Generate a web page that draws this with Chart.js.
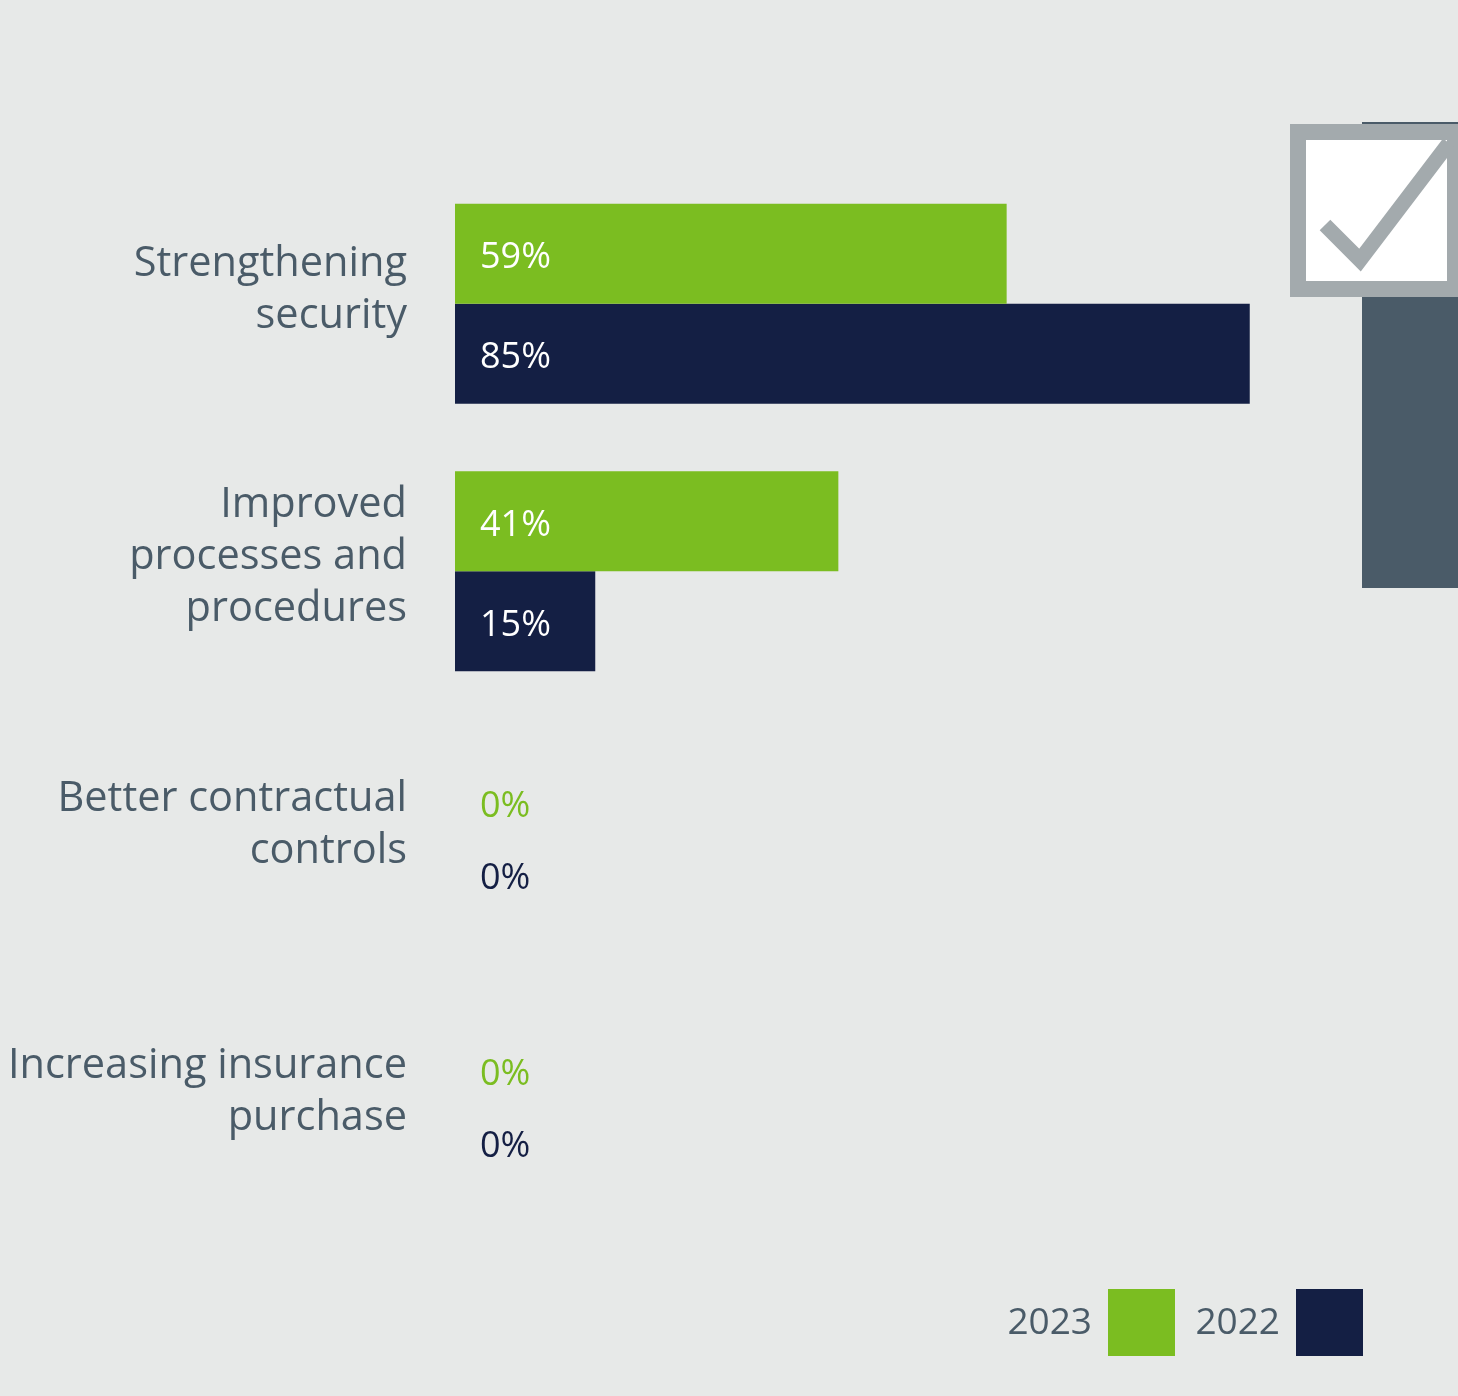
<!DOCTYPE html>
<html>
<head>
<meta charset="utf-8">
<title>Actions taken</title>
<script src="https://cdn.jsdelivr.net/npm/chart.js@4/dist/chart.umd.min.js"></script>
<style>
  html, body { margin: 0; padding: 0; background: #e7e9e8; }
  #wrap { width: 1458px; height: 1396px; }
</style>
</head>
<body>
<div id="wrap"><canvas id="actionsChart" width="1458" height="1396"></canvas></div>
<script>
// Survey answers, in percent
const categories = [
  ["Strengthening", "security"],
  ["Improved", "processes and", "procedures"],
  ["Better contractual", "controls"],
  ["Increasing insurance", "purchase"],
];
const values2023 = [59, 41, 0, 0];
const values2022 = [85, 15, 0, 0];
const seriesNames = ["2023", "2022"];

const GREEN = "#7bbd21";
const NAVY = "#141f44";
const TEXT = "#4a5b68";
const FONT = "'Open Sans', sans-serif";

// empty bars are not painted at all (only their label shows)
const barFill = (color) => (c) => (c.raw === 0 ? "rgba(0,0,0,0)" : color);

// value labels: white inside the bar, coloured like the bar when it is empty
const valueLabels = {
  id: "valueLabels",
  afterDatasetsDraw(chart) {
    const ctx = chart.ctx;
    ctx.save();
    ctx.font = "36px " + FONT;
    ctx.textAlign = "left";
    ctx.textBaseline = "middle";
    chart.data.datasets.forEach((ds, di) => {
      chart.getDatasetMeta(di).data.forEach((bar, i) => {
        const v = ds.data[i];
        let y = bar.y + 4;
        if (v === 0) {
          y += di === 0 ? 14 : -14;
          ctx.fillStyle = ds.labelColor;
        } else {
          ctx.fillStyle = "#ffffff";
        }
        ctx.fillText(v + "%", chart.chartArea.left + 25, y);
      });
    });
    ctx.restore();
  },
};

// checkbox emblem in the top right corner
const emblem = {
  id: "emblem",
  afterDraw(chart) {
    const ctx = chart.ctx;
    ctx.save();
    ctx.fillStyle = "#4a5b68";
    ctx.fillRect(1362, 122, 96, 466);
    ctx.fillStyle = "#a3aaad";
    ctx.fillRect(1290, 124, 168, 173);
    ctx.fillStyle = "#ffffff";
    ctx.fillRect(1306, 140, 141, 141);
    ctx.strokeStyle = "#a3aaad";
    ctx.lineWidth = 15;
    ctx.beginPath();
    ctx.moveTo(1325, 225);
    ctx.lineTo(1360, 260);
    ctx.lineTo(1449, 143);
    ctx.stroke();
    ctx.restore();
  },
};

// legend: year text followed by its colour square
const yearLegend = {
  id: "yearLegend",
  afterDraw(chart) {
    const ctx = chart.ctx;
    const boxes = [1108, 1296];
    ctx.save();
    ctx.font = "37px " + FONT;
    ctx.textAlign = "right";
    ctx.textBaseline = "middle";
    chart.data.datasets.forEach((ds, i) => {
      ctx.fillStyle = TEXT;
      ctx.fillText(ds.label, boxes[i] - 16, 1323);
      ctx.fillStyle = ds.labelColor;
      ctx.fillRect(boxes[i], 1289, 67, 67);
    });
    ctx.restore();
  },
};

const ctx = document.getElementById("actionsChart").getContext("2d");
new Chart(ctx, {
  type: "bar",
  data: {
    labels: categories,
    datasets: [
      { label: seriesNames[0], data: values2023, labelColor: GREEN, backgroundColor: barFill(GREEN) },
      { label: seriesNames[1], data: values2022, labelColor: NAVY, backgroundColor: barFill(NAVY) },
    ],
  },
  options: {
    indexAxis: "y",
    responsive: false,
    animation: false,
    barThickness: 100,
    borderWidth: 0,
    inflateAmount: 0,
    layout: { padding: { top: 170, bottom: 156, left: 0, right: 68 } },
    plugins: {
      legend: { display: false },
      tooltip: { enabled: false },
    },
    scales: {
      x: { display: false, min: 0, max: 100 },
      y: {
        grid: { display: false },
        border: { display: false },
        afterFit(scale) { scale.width = 455; },
        ticks: {
          padding: 40,
          labelOffset: -14,
          color: TEXT,
          font: { family: FONT, size: 41.5, lineHeight: 1.25 },
        },
      },
    },
  },
  plugins: [valueLabels, emblem, yearLegend],
});
</script>
</body>
</html>
